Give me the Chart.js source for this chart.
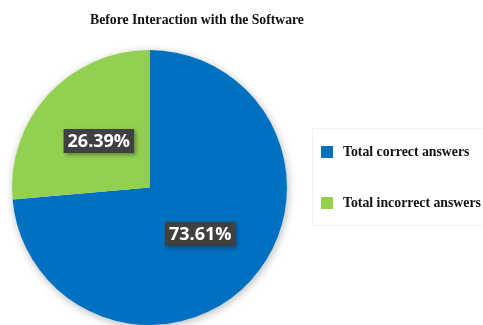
<!DOCTYPE html>
<html>
<head>
<meta charset="utf-8">
<script src="https://cdn.jsdelivr.net/npm/chart.js@4"></script>
<style>
html,body{margin:0;padding:0;background:#fff;}
#wrap{width:483px;height:325px;position:relative;}
</style>
</head>
<body>
<div id="wrap"><canvas id="c" width="483" height="325"></canvas></div>
<script>
const chartTitle = "Before Interaction with the Software";
const categories = ["Total correct answers", "Total incorrect answers"];
const values = [73.61, 26.39];
const colors = ["#0070C0", "#92D050"];

const overlay = {
  id: 'overlay',
  beforeDatasetsDraw(chart) {
    const ctx = chart.ctx;
    const meta = chart.getDatasetMeta(0);
    const a = meta.data[0];
    ctx.save();
    ctx.shadowColor = 'rgba(0,0,0,0.28)';
    ctx.shadowBlur = 9;
    ctx.shadowOffsetX = 1;
    ctx.shadowOffsetY = 2;
    ctx.fillStyle = '#ffffff';
    ctx.beginPath();
    ctx.arc(a.x, a.y, a.outerRadius, 0, Math.PI * 2);
    ctx.fill();
    ctx.restore();
  },
  afterDatasetsDraw(chart) {
    const ctx = chart.ctx;
    const meta = chart.getDatasetMeta(0);
    ctx.save();
    // title
    ctx.fillStyle = '#111';
    ctx.font = 'bold 13.7px "Liberation Serif", "DejaVu Serif", serif';
    ctx.textAlign = 'center';
    ctx.textBaseline = 'middle';
    ctx.fillText(chartTitle, 197, 20);
    // data labels
    meta.data.forEach((arc, i) => {
      const mid = (arc.startAngle + arc.endAngle) / 2;
      const r = arc.outerRadius * 0.5;
      const cx = arc.x + Math.cos(mid) * r;
      const cy = arc.y + Math.sin(mid) * r;
      const txt = values[i].toFixed(2) + '%';
      ctx.font = 'bold 18px "Open Sans", "Noto Sans", sans-serif';
      const w = ctx.measureText(txt).width + 8;
      const h = 24;
      ctx.save();
      ctx.shadowColor = 'rgba(0,0,0,0.35)';
      ctx.shadowBlur = 4;
      ctx.shadowOffsetX = 2;
      ctx.shadowOffsetY = 2;
      ctx.fillStyle = '#404040';
      ctx.fillRect(cx - w / 2, cy - h / 2, w, h);
      ctx.restore();
      ctx.fillStyle = '#ffffff';
      ctx.textAlign = 'center';
      ctx.textBaseline = 'middle';
      ctx.fillText(txt, cx, cy + 1);
    });
    // legend
    ctx.strokeStyle = '#f2f2f2';
    ctx.lineWidth = 1;
    ctx.strokeRect(312.5, 128.5, 175, 97);
    const ys = [152, 203];
    categories.forEach((lab, i) => {
      ctx.fillStyle = colors[i];
      ctx.fillRect(321, ys[i] - 6, 12, 12);
      ctx.fillStyle = '#111';
      ctx.font = 'bold 13.8px "Liberation Serif", "DejaVu Serif", serif';
      ctx.textAlign = 'left';
      ctx.textBaseline = 'middle';
      ctx.fillText(lab, 343, ys[i]);
    });
    ctx.restore();
  }
};

new Chart(document.getElementById('c'), {
  type: 'pie',
  data: {
    labels: categories,
    datasets: [{
      data: values,
      backgroundColor: colors,
      borderWidth: 0
    }]
  },
  options: {
    responsive: false,
    animation: false,
    events: [],
    layout: { padding: { left: 11, right: 195, top: 50, bottom: 0 } },
    plugins: {
      legend: { display: false },
      title: { display: false },
      tooltip: { enabled: false }
    }
  },
  plugins: [overlay]
});
</script>
</body>
</html>
